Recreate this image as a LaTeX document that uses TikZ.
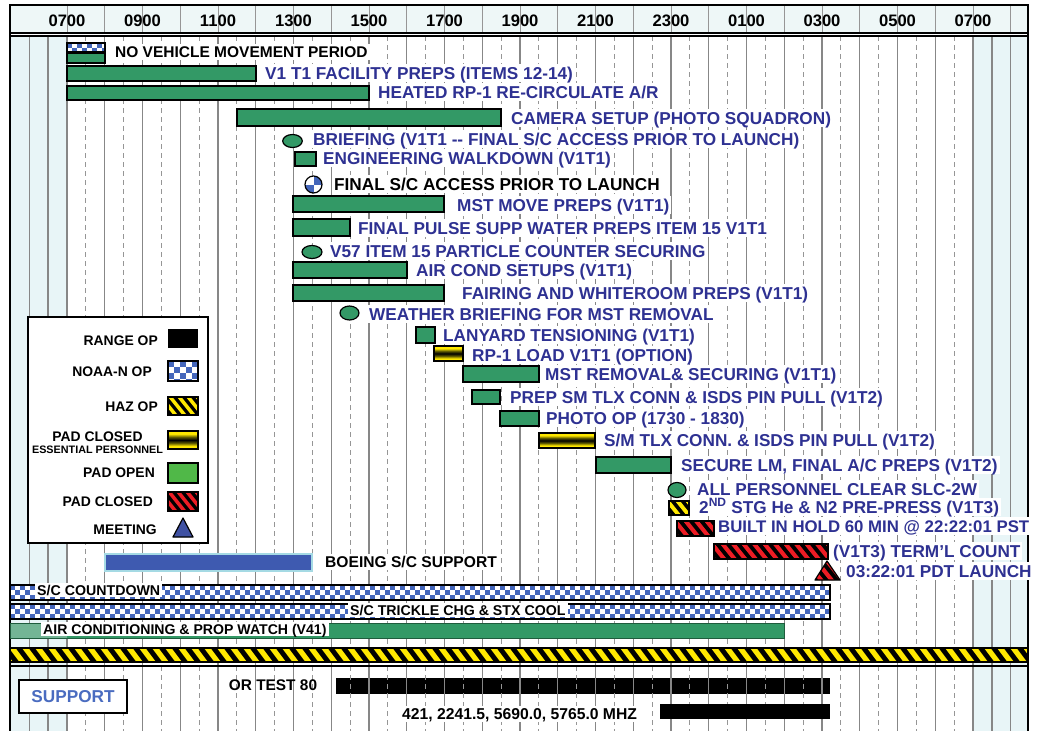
\documentclass[tikz,border=0pt]{standalone}
\usepackage{fontspec}
\setmainfont{Liberation Sans}
\definecolor{navy}{RGB}{46,49,146}
\definecolor{bargreen}{RGB}{51,153,102}
\definecolor{lightbargreen}{RGB}{115,181,149}
\definecolor{chkblue}{RGB}{68,102,187}
\definecolor{shadebg}{RGB}{232,245,247}
\definecolor{hdrbg}{RGB}{238,247,247}
\definecolor{hourgray}{RGB}{135,135,135}
\definecolor{halfgray}{RGB}{150,150,150}
\definecolor{hazyellow}{RGB}{255,232,0}
\definecolor{hazred}{RGB}{237,28,36}
\definecolor{padgreen}{RGB}{80,184,72}
\definecolor{meetblue}{RGB}{63,81,163}
\definecolor{suppblue}{RGB}{74,108,192}
\definecolor{boeingblue}{RGB}{62,90,176}
\definecolor{boeingedge}{RGB}{165,218,228}
\definecolor{olivedark}{RGB}{90,85,0}
\pgfdeclareverticalshading{padclosedshade}{100bp}{color(0bp)=(hazyellow); color(25bp)=(hazyellow); color(33bp)=(hazyellow); color(42bp)=(olivedark); color(50bp)=(black); color(58bp)=(olivedark); color(67bp)=(hazyellow); color(75bp)=(hazyellow); color(100bp)=(hazyellow)}
\tikzset{
  lbl/.style={anchor=west, fill=white, inner xsep=2pt, inner ysep=1pt,
    text height=13.8pt, text depth=1.4pt, text=navy,
    font=\bfseries\fontsize{17.2}{18}\selectfont},
  blk/.style={lbl, text=black},
  mid/.style={font=\bfseries\fontsize{15.6}{17}\selectfont, text height=12.5pt, text depth=1.25pt},
  small/.style={font=\bfseries\fontsize{14.2}{16}\selectfont, text height=11.4pt, text depth=1.1pt},
  lgd/.style={anchor=east, inner sep=0pt, text=black,
    font=\bfseries\fontsize{13.9}{15}\selectfont},
  hdrtxt/.style={inner sep=0pt, text=black, font=\bfseries\fontsize{16.6}{18}\selectfont},
  bar/.style={fill=bargreen, draw=black, line width=1.3pt},
  hourline/.style={draw=hourgray, line width=1.3pt},
  halfline/.style={draw=halfgray, line width=0.9pt, dash pattern=on 5pt off 4pt},
  hdrline/.style={draw=halfgray, line width=1pt},
}
\newcommand\hazfill[7]{%
  \pgfmathsetmacro\hzh{#4-#2}%
  \pgfmathtruncatemacro\hzn{(#3-#1+\hzh)/#6+3}%
  \fill[black] (#1,#2) rectangle (#3,#4);
  \foreach \k in {0,...,\hzn}{%
    \pgfmathsetmacro\hzx{#1-\hzh-#6+\k*#6}%
    \fill[#5] (\hzx,#2) -- ({\hzx+#6/2},#2) -- ({\hzx+#6/2+#7*\hzh},#4) -- ({\hzx+#7*\hzh},#4) -- cycle;
  }}
\newcommand\hazbar[7]{%
  \begin{scope}\clip (#1,#2) rectangle (#3,#4);\hazfill{#1}{#2}{#3}{#4}{#5}{#6}{#7}\end{scope}
  \draw[line width=1.2pt] (#1,#2) rectangle (#3,#4);}
\newcommand\chkfill[5]{%
  \fill[white] (#1,#2) rectangle (#3,#4);
  \pgfmathtruncatemacro\ckc{(#3-#1)/#5}%
  \pgfmathtruncatemacro\ckr{(#4-#2)/#5}%
  \foreach \i in {0,...,\ckc}{\foreach \j in {0,...,\ckr}{%
    \pgfmathtruncatemacro\ckp{mod(\i+\j,2)}%
    \ifnum\ckp=0 \fill[chkblue] ({#1+\i*#5},{#2+\j*#5}) rectangle ++(#5,#5);\fi
  }}}
\newcommand\chkbar[5]{%
  \begin{scope}\clip (#1,#2) rectangle (#3,#4);\chkfill{#1}{#2}{#3}{#4}{#5}\end{scope}
  \draw[line width=1.2pt] (#1,#2) rectangle (#3,#4);}
\newcommand\gradbar[4]{%
  \shade[shading=padclosedshade] (#1,#2) rectangle (#3,#4);
  \draw[line width=1.2pt] (#1,#2) rectangle (#3,#4);}
\begin{document}
\begin{tikzpicture}[x=1pt,y=-1pt]
\useasboundingbox (0,0) rectangle (1039,731);
\fill[white] (0,0) rectangle (1039,731);
% backgrounds
\fill[hdrbg] (10,5) rectangle (1028,33);
\fill[shadebg] (10,36) rectangle (67,731);
\fill[shadebg] (973,36) rectangle (1028,731);
% range bar below the grid
\fill[black] (336,678) rectangle (830,694);
% grid
\foreach \t in {6,...,32}{\draw[hourline] ({67+37.75*(\t-7)},36) -- ({67+37.75*(\t-7)},731);}
\draw[hourline] (48.1,36) -- (48.1,731);
\draw[hourline] (991.9,36) -- (991.9,731);
\foreach \t in {7.5,8.5,...,30.5}{\draw[halfline] ({67+37.75*(\t-7)},36) -- ({67+37.75*(\t-7)},731);}
\foreach \t in {7,...,32}{\draw[hdrline] ({67+37.75*(\t-7)},5) -- ({67+37.75*(\t-7)},33);}
% frame
\draw[line width=1.5pt] (10,731) -- (10,5) -- (1028,5) -- (1028,731);
\draw[line width=1.3pt] (10,33) -- (1028,33);
\draw[line width=1.3pt] (10,36) -- (1028,36);
% header labels
\foreach \t/\lab in {7/0700,9/0900,11/1100,13/1300,15/1500,17/1700,19/1900,21/2100,23/2300,25/0100,27/0300,29/0500,31/0700}{
  \node[hdrtxt] (h\t) at ({67+37.75*(\t-7)},21) {\lab};}
% bars
\chkbar{67}{43}{105}{52}{5}
\draw[bar] (67,53) rectangle (105,63);
\draw[bar] (67,66) rectangle (256,81);
\draw[bar] (67,86) rectangle (369,100);
\draw[bar] (237,109) rectangle (501,126);
\draw[bar, line width=1.2pt] (292.5,141) ellipse [x radius=9.8, y radius=6.5];
\draw[bar] (295,152) rectangle (316,166);
\begin{scope}
  \clip (313.5,184.5) circle [radius=8.5];
  \fill[white] (305,176) rectangle (322,193);
  \fill[chkblue] (313.5,184.5) rectangle (323,175);
  \fill[chkblue] (313.5,184.5) rectangle (304,194);
\end{scope}
\draw[line width=1.2pt] (313.5,184.5) circle [radius=8.5];
\draw[bar] (293,196) rectangle (444,212);
\draw[bar] (293,219) rectangle (350,236);
\draw[bar, line width=1.2pt] (312,252) ellipse [x radius=10, y radius=6.5];
\draw[bar] (293,262) rectangle (407,278);
\draw[bar] (293,285) rectangle (444,301);
\draw[bar, line width=1.2pt] (349.5,313) ellipse [x radius=9.5, y radius=7];
\draw[bar] (416,327) rectangle (435,343);
\gradbar{434}{346}{463}{361}
\draw[bar] (463,366) rectangle (539,382);
\draw[bar] (472,390) rectangle (500,404);
\draw[bar] (500,411) rectangle (539,426);
\gradbar{539}{433}{595}{448}
\draw[bar] (596,457) rectangle (671,473);
\draw[bar, line width=1.2pt] (677,490) ellipse [x radius=9, y radius=7.5];
\hazbar{669}{501}{689}{515}{hazyellow}{10}{0.8}
\hazbar{677}{521}{714}{536}{hazred}{10.5}{0.8}
\hazbar{714}{544}{828}{559}{hazred}{10.5}{0.8}
\begin{scope}
  \clip (827,561) -- (840,580) -- (815,580) -- cycle;
  \hazfill{813}{560}{842}{581}{hazred}{10.5}{0.8}
\end{scope}
\draw[line width=1.2pt, line join=round] (827,561) -- (840,580) -- (815,580) -- cycle;
% Boeing support
\fill[boeingblue] (104,553) rectangle (313,572);
\draw[boeingedge, line width=2.5pt] (105,554) rectangle (312,571);
% long bars
\chkbar{10}{585}{830}{600}{5}
\chkbar{10}{604}{830}{619}{5}
\fill[lightbargreen] (10,623) rectangle (67,638);
\fill[bargreen] (67,623) rectangle (784,638);
\draw[bargreen!60!black, line width=1pt] (10,623) rectangle (784,638);
\hazbar{10}{648}{1028}{662}{hazyellow}{13}{0.75}
\draw[line width=1.3pt] (10,666) -- (1028,666);
\fill[black] (660,704) rectangle (830,719);
% labels
\node[blk, mid, font=\bfseries\fontsize{15.5}{17}\selectfont] (t1) at (113,52) {NO VEHICLE MOVEMENT PERIOD};
\node[lbl] (t2) at (263,73) {V1 T1 FACILITY PREPS (ITEMS 12-14)};
\node[lbl] (t3) at (376,92) {HEATED RP-1 RE-CIRCULATE A/R};
\node[lbl] (t4) at (509,118) {CAMERA SETUP (PHOTO SQUADRON)};
\node[lbl] (t5) at (311,139) {BRIEFING (V1T1 -{}- FINAL S/C ACCESS PRIOR TO LAUNCH)};
\node[lbl] (t6) at (321,158) {ENGINEERING WALKDOWN (V1T1)};
\node[blk] (t7) at (332,184) {FINAL S/C ACCESS PRIOR TO LAUNCH};
\node[lbl] (t8) at (455,205) {MST MOVE PREPS (V1T1)};
\node[lbl] (t9) at (356,228) {FINAL PULSE SUPP WATER PREPS ITEM 15 V1T1};
\node[lbl] (t10) at (328,251) {V57 ITEM 15 PARTICLE COUNTER SECURING};
\node[lbl] (t11) at (414,270) {AIR COND SETUPS (V1T1)};
\node[lbl] (t12) at (460,293) {FAIRING AND WHITEROOM PREPS (V1T1)};
\node[lbl] (t13) at (367,314) {WEATHER BRIEFING FOR MST REMOVAL};
\node[lbl] (t14) at (441,335) {LANYARD TENSIONING (V1T1)};
\node[lbl] (t15) at (470,355) {RP-1 LOAD V1T1 (OPTION)};
\node[lbl] (t16) at (543,374) {MST REMOVAL\& SECURING (V1T1)};
\node[lbl] (t17) at (508,397) {PREP SM TLX CONN \& ISDS PIN PULL (V1T2)};
\node[lbl] (t18) at (544,418) {PHOTO OP (1730 - 1830)};
\node[lbl] (t19) at (602,440) {S/M TLX CONN. \& ISDS PIN PULL (V1T2)};
\node[lbl] (t20) at (679,465) {SECURE LM, FINAL A/C PREPS (V1T2)};
\node[lbl] (t21) at (695,489) {ALL PERSONNEL CLEAR SLC-2W};
\node[lbl] (t22) at (697,507) {2\textsuperscript{ND} STG He \& N2 PRE-PRESS (V1T3)};
\node[lbl, font=\bfseries\fontsize{16.8}{18}\selectfont] (t23) at (716,526) {BUILT IN HOLD 60 MIN @ 22:22:01 PST};
\node[lbl] (t24) at (831,551) {(V1T3) TERM'L COUNT};
\node[lbl] (t25) at (844,571) {03:22:01 PDT LAUNCH};
\node[blk, mid] (boeing) at (323,562) {BOEING S/C SUPPORT};
\node[blk, small] (cd) at (35,590) {S/C COUNTDOWN};
\node[blk, small] (tr) at (348,610) {S/C TRICKLE CHG \& STX COOL};
\node[blk, small, font=\bfseries\fontsize{14.1}{16}\selectfont] (ac) at (41,629) {AIR CONDITIONING \& PROP WATCH (V41)};
\node[blk, mid, fill=none, anchor=center, font=\bfseries\fontsize{15.4}{17}\selectfont] (or) at (273,685) {OR TEST 80};
\node[blk, mid, font=\bfseries\fontsize{15.7}{17}\selectfont] (mhz) at (400,714) {421, 2241.5, 5690.0, 5765.0 MHZ};
% support box
\node[draw=black, line width=1.2pt, fill=white, minimum width=108pt, minimum height=33pt, inner sep=0pt,
  text=suppblue, font=\bfseries\fontsize{17.2}{18}\selectfont] (supp) at (73,696.5) {SUPPORT};
% legend
\node[draw=black, line width=1.5pt, fill=white, minimum width=180pt, minimum height=226pt, inner sep=0pt] (legend) at (118,430) {};
\node[lgd] (lg1) at (158,341) {RANGE OP};
\fill[black] (168,329) rectangle (198,348);
\node[lgd] (lg2) at (152,372) {NOAA-N OP};
\chkbar{168}{361}{198}{381}{6}
\node[lgd] (lg3) at (158,407) {HAZ OP};
\hazbar{168}{397}{198}{415}{hazyellow}{9}{0.8}
\node[lgd, anchor=center] (lg4) at (97.5,436.5) {PAD CLOSED};
\node[lgd, anchor=center, font=\bfseries\fontsize{10.8}{12}\selectfont] (lg4b) at (97.5,449.5) {ESSENTIAL PERSONNEL};
\gradbar{168}{431}{198}{449}
\node[lgd] (lg5) at (155,473) {PAD OPEN};
\draw[fill=padgreen, line width=1.2pt] (168,463) rectangle (198,483);
\node[lgd] (lg6) at (153,502) {PAD CLOSED};
\hazbar{168}{492}{198}{511}{hazred}{9}{0.8}
\node[lgd] (lg7) at (157,529.5) {MEETING};
\draw[fill=meetblue, line width=1.2pt, line join=round] (183,518) -- (193,537) -- (173,537) -- cycle;
\end{tikzpicture}
\end{document}
